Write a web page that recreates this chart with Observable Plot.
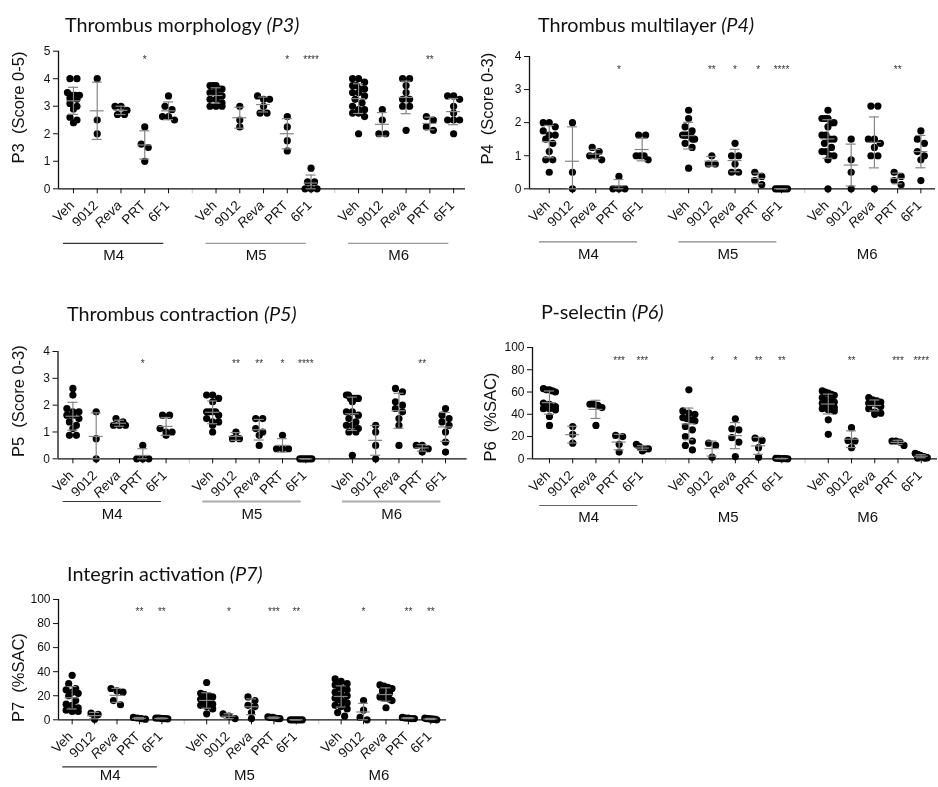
<!DOCTYPE html>
<html><head><meta charset="utf-8">
<script src="https://cdn.jsdelivr.net/npm/d3@7"></script>
<script src="https://cdn.jsdelivr.net/npm/@observablehq/plot@0.6"></script>
<style>
body{margin:0;background:#fff;}
#root{position:relative;width:938px;height:787px;overflow:hidden;background:#fff;}
.title{position:absolute;font-family:Lato,"Open Sans",sans-serif;font-size:19.8px;line-height:1;color:#111;white-space:nowrap;will-change:transform;}
.panel{position:absolute;will-change:transform;}
</style></head><body><div id="root"></div>
<script>
// ---------------- DATA ----------------
const treatments = ["Veh", "9012", "Reva", "PRT", "6F1"];
const groups = ["M4", "M5", "M6"];

// P3 Thrombus morphology (score 0-5); per group: [Veh, 9012, Reva, PRT, 6F1]
const p3_M4 = [
  [4.0,4.0,3.5,3.4,3.4,3.4,3.3,3.25,3.1,3.0,2.9,2.6,2.5,2.4],
  [4.0,2.5,2.0],
  [3.0,3.0,2.85,2.7,2.7],
  [2.25,1.625,1.5,1.0],
  [3.375,3.0,2.875,2.625,2.625,2.5]
];
const p3_M5 = [
  [3.75,3.75,3.75,3.625,3.625,3.5,3.5,3.375,3.375,3.25,3.25,3.125,3.0,3.0,3.0],
  [3.0,2.5,2.25],
  [3.375,3.25,3.25,3.0,2.75,2.75],
  [2.625,2.25,1.75,1.375],
  [0.75,0.25,0.25,0,0,0]
];
const p3_M6 = [
  [4.0,4.0,3.875,3.75,3.75,3.625,3.625,3.5,3.5,3.375,3.25,3.125,3.0,2.875,2.875,2.75,2.75,2.625,2.0],
  [2.875,2.5,2.0,2.0],
  [4.0,4.0,3.75,3.5,3.25,3.25,3.0,3.0,2.125],
  [2.625,2.5,2.25,2.125],
  [3.375,3.375,3.25,3.0,2.75,2.5,2.5,2.5,2.0]
];
const p3_sig = [["","","","*",""],["","","","*","****"],["","","","**",""]];

// P4 Thrombus multilayer (score 0-3)
const p4_M4 = [
  [2.0,2.0,1.875,1.75,1.625,1.625,1.5,1.375,1.125,0.875,0.875,0.5],
  [2.0,0.5,0],
  [1.25,1.125,1.0,1.0,0.875],
  [0.375,0,0,0],
  [1.625,1.625,1.0,1.0,1.0,0.875]
];
const p4_M5 = [
  [2.375,2.125,1.875,1.75,1.625,1.625,1.625,1.625,1.625,1.5,1.5,1.375,1.25,0.625],
  [1.0,0.75,0.75],
  [1.375,1.0,1.0,0.75,0.5,0.5],
  [0.5,0.375,0.25,0.125],
  [0,0,0,0,0,0]
];
const p4_M6 = [
  [2.375,2.125,2.125,2.125,2.0,2.0,1.875,1.625,1.625,1.5,1.5,1.375,1.25,1.125,1.125,1.0,1.0,0.875,0],
  [1.5,0.875,0.5,0],
  [2.5,2.5,1.5,1.5,1.375,1.25,1.0,1.0,0],
  [0.5,0.375,0.25,0.125],
  [1.75,1.5,1.375,1.125,1.0,0.875,0.25]
];
const p4_sig = [["","","","*",""],["","**","*","*","****"],["","","","**",""]];

// P5 Thrombus contraction (score 0-3)
const p5_M4 = [
  [2.625,2.375,1.875,1.75,1.75,1.625,1.625,1.5,1.375,1.25,1.125,0.875,0.875],
  [1.75,0.75,0],
  [1.5,1.375,1.25,1.25,1.25],
  [0.5,0,0,0],
  [1.625,1.625,1.125,1.0,1.0,0.875]
];
const p5_M5 = [
  [2.375,2.375,2.25,2.125,1.75,1.75,1.75,1.75,1.625,1.5,1.375,1.375,1.25,1.0],
  [1.0,0.75,0.75],
  [1.5,1.5,1.125,1.0,0.875,0.5],
  [0.875,0.375,0.375,0.375],
  [0,0,0,0,0,0]
];
const p5_M6 = [
  [2.375,2.375,2.25,2.25,2.25,2.25,2.25,2.125,1.75,1.75,1.625,1.5,1.375,1.25,1.25,1.125,1.0,1.0,0.125],
  [1.25,1.0,0.5,0],
  [2.625,2.5,2.125,2.0,1.875,1.75,1.5,1.25,0.5],
  [0.5,0.5,0.375,0.25],
  [1.875,1.625,1.5,1.375,1.25,1.0,0.625,0.25]
];
const p5_sig = [["","","","*",""],["","**","**","*","****"],["","","","**",""]];

// P6 P-selectin (%SAC)
const p6_M4 = [
  [63,62,62,61,60,50,49,47,45,45,44,38,30],
  [29,22,14],
  [49,49,48,46,30],
  [21,20,13,6],
  [13,11,9,9,9,7]
];
const p6_M5 = [
  [62,43,41,40,37,36,35,34,29,26,20,16,12,8],
  [14,12,1.5],
  [36,27,26,19,15,2],
  [18.5,16.5,10,1.5],
  [0.5,0.3,0.2,0.2,0.1,0]
];
const p6_M6 = [
  [61,60,59,58,57,55,53,52,51,50,50,49,48,48,47,46,45,44,43,35,22],
  [28,16.5,16,10],
  [55,53,52,51,50,50,49,47,45,42,41,40],
  [16,16,15,12],
  [5,4,4,3.5,3,3,2.5,2,2,1.5,1.5,1,1,0.5,0.5]
];
const p6_sig = [["","","","***","***"],["","*","*","**","**"],["","**","","***","****"]];

// P7 Integrin activation (%SAC)
const p7_M4 = [
  [37,30,26,25,23,22,20,16,13,12,10,8,7,7],
  [5.5,4.5,0.5],
  [26,24,23,16,12.5],
  [2,1.5,1,0.5],
  [1.5,1.5,1.2,1,1,0.8]
];
const p7_M5 = [
  [31,22,21,20,19,17,16,15,14,13,12,11,9,5],
  [5,3,1],
  [19,16,12,11,6,1],
  [2.5,2,2,1.5,1,1],
  [0,0,0,0,0,0]
];
const p7_M6 = [
  [34,32,30,29,27,26,25,23,21,20,18,17,16,15,14,12,11,9,6,3],
  [16,8,2,0],
  [29,28,27,26,24,22,19,19,18,18,17,16,10],
  [2,1.5,1.5,1,1],
  [1.5,1,1,0.8,0.5,0.5,0.3,0]
];
const p7_sig = [["","","","**","**"],["","*","","***","**"],["","*","","**","**"]];

const scoreTicks5 = [0,1,2,3,4,5];
const scoreTicks4 = [0,1,2,3,4];
const pctTicks = [0,20,40,60,80,100];

// ---------------- LAYOUT ----------------
const panels = [
  {title:"Thrombus morphology ", code:"(P3)", yLabel:"P3\u00a0\u00a0(Score 0-5)", data:[p3_M4,p3_M5,p3_M6], sig:p3_sig,
   yDomain:[0,5], yTicks:scoreTicks5, left:0, top:38, width:470, height:232, mL:58, mR:5, mT:12.7, mB:81.7,
   xDomain:[-0.63,16.5], titleX:65, titleBase:33, labDx:-40, labDy:-12.5, starDy:5, lineDy:54.5, groupDy:71,
   lines:[{stroke:"#333",w:1.2},{stroke:"#999",w:1.2},{stroke:"#999",w:1.2}]},
  {title:"Thrombus multilayer ", code:"(P4)", yLabel:"P4\u00a0\u00a0(Score 0-3)", data:[p4_M4,p4_M5,p4_M6], sig:p4_sig,
   yDomain:[0,4], yTicks:scoreTicks4, left:470, top:38, width:468, height:232, mL:59, mR:3, mT:18, mB:81.7,
   xDomain:[-0.85,16.63], titleX:538, titleBase:32.7, labDx:-42, labDy:-14, starDy:9.5, lineDy:53, groupDy:70,
   lines:[{stroke:"#888",w:1.2},{stroke:"#888",w:1.2},null]},
  {title:"Thrombus contraction ", code:"(P5)", yLabel:"P5\u00a0\u00a0(Score 0-3)", data:[p5_M4,p5_M5,p5_M6], sig:p5_sig,
   yDomain:[0,4], yTicks:scoreTicks4, left:0, top:330, width:470, height:195, mL:57.5, mR:3.3, mT:21, mB:66.7,
   xDomain:[-0.64,16.93], titleX:67, titleBase:322, labDx:-39.5, labDy:-4, starDy:8, lineDy:42.7, groupDy:60,
   lines:[{stroke:"#333",w:1},{stroke:"#aaa",w:2},{stroke:"#aaa",w:2}]},
  {title:"P-selectin ", code:"(P6)", yLabel:"P6\u00a0\u00a0(%SAC)", data:[p6_M4,p6_M5,p6_M6], sig:p6_sig,
   yDomain:[0,100], yTicks:pctTicks, left:470, top:330, width:468, height:195, mL:62, mR:1, mT:17, mB:66.7,
   xDomain:[-0.73,16.7], titleX:541, titleBase:320, labDx:-42, labDy:14, starDy:9.5, lineDy:46.7, groupDy:63,
   lines:[{stroke:"#666",w:1.2},null,null]},
  {title:"Integrin activation ", code:"(P7)", yLabel:"P7\u00a0\u00a0(%SAC)", data:[p7_M4,p7_M5,p7_M6], sig:p7_sig,
   yDomain:[0,100], yTicks:pctTicks, left:0, top:585, width:470, height:202, mL:58, mR:24, mT:14, mB:67.7,
   xDomain:[-0.61,16.7], titleX:67, titleBase:582, labDx:-40, labDy:18, starDy:8.5, lineDy:47, groupDy:60.5,
   lines:[{stroke:"#333",w:1.2},null,null]}
];

const root = document.getElementById("root");
const FONT = "'Liberation Sans', Arial, sans-serif";

function makePanel(cfg) {
  const [x0, x1] = cfg.xDomain, [y0, y1] = cfg.yDomain;
  const pxX = (cfg.width - cfg.mL - cfg.mR) / (x1 - x0);
  const pxY = (cfg.height - cfg.mT - cfg.mB) / (y1 - y0);
  const pts = [], stats = [], stars = [], labels = [], realSlots = [], gapSlots = [], gl = [];
  groups.forEach((g, gi) => {
    treatments.forEach((t, ti) => {
      const slot = gi * 6 + ti;
      realSlots.push(slot);
      labels.push({slot, label: t});
      const vals = cfg.data[gi][ti];
      // symmetric rows of near-equal values (dot-plot layout)
      const sorted = [...vals].sort((a, b) => b - a);
      const rows = [];
      for (const v of sorted) {
        const r = rows[rows.length - 1];
        if (r && (r.top - v) * pxY <= 5) r.vals.push(v); else rows.push({top: v, vals: [v]});
      }
      for (const r of rows) {
        const n = r.vals.length;
        const s = n > 1 ? Math.min(7, 12 / (n - 1)) : 0;
        r.vals.forEach((v, k) => pts.push({x: slot + (k - (n - 1) / 2) * s / pxX, y: v}));
      }
      const m = d3.mean(vals), sd = d3.deviation(vals) || 0;
      stats.push({slot, mean: m, lo: Math.max(y0, m - sd), hi: Math.min(y1, m + sd)});
      if (cfg.sig[gi][ti]) stars.push({slot, text: cfg.sig[gi][ti]});
    });
    if (gi < 2) gapSlots.push(gi * 6 + 5);
    if (cfg.lines[gi]) gl.push({x1: gi * 6 - 0.42, x2: gi * 6 + 3.8, ...cfg.lines[gi]});
  });
  const groupLab = groups.map((g, gi) => ({name: g, cx: gi * 6 + 1.69}));
  const cw = 5 / pxX, mw = 7 / pxX;
  const bar = {stroke: "#858585", strokeWidth: 1.2};

  const svg = Plot.plot({
    width: cfg.width, height: cfg.height,
    marginLeft: cfg.mL, marginRight: cfg.mR, marginTop: cfg.mT, marginBottom: cfg.mB,
    x: {domain: cfg.xDomain},
    y: {domain: cfg.yDomain},
    style: {fontFamily: FONT, fontSize: "12px", color: "#111", background: "transparent", overflow: "visible"},
    marks: [
      Plot.axisY(cfg.yTicks, {tickSize: 5, tickPadding: 3, fontSize: 12, label: null, stroke: "#111"}),
      Plot.axisX(realSlots, {tickSize: 5, tickFormat: () => "", label: null, stroke: "#111"}),
      Plot.axisX(gapSlots, {tickSize: 5, tickFormat: () => "", label: null, stroke: "#c8c8c8"}),
      Plot.ruleY([y0], {stroke: "#111", strokeWidth: 1.3}),
      Plot.ruleX([x0], {stroke: "#111", strokeWidth: 1.3}),
      Plot.dot(pts, {x: "x", y: "y", r: 3.6, fill: "#000", stroke: "none"}),
      Plot.ruleX(stats, {x: "slot", y1: "lo", y2: "hi", ...bar}),
      Plot.ruleY(stats, {y: "hi", x1: d => d.slot - cw, x2: d => d.slot + cw, ...bar}),
      Plot.ruleY(stats, {y: "lo", x1: d => d.slot - cw, x2: d => d.slot + cw, ...bar}),
      Plot.ruleY(stats, {y: "mean", x1: d => d.slot - mw, x2: d => d.slot + mw, ...bar}),
      Plot.text(stars, {x: "slot", frameAnchor: "top", dy: cfg.starDy, text: "text", fontSize: 10, fill: "#333", fillOpacity: 0.99}),
      Plot.text(labels.filter(d => d.label !== "Reva"), {x: "slot", frameAnchor: "bottom", text: "label", rotate: -45, textAnchor: "end", dx: 1.5, dy: 17.5, fontSize: 13.5, fill: "#111"}),
      Plot.text(labels.filter(d => d.label === "Reva"), {x: "slot", frameAnchor: "bottom", text: "label", rotate: -45, textAnchor: "end", dx: 1.5, dy: 17.5, fontSize: 13.5, fontStyle: "italic", fill: "#111"}),
      Plot.ruleY(gl, {x1: "x1", x2: "x2", y: () => y0, dy: cfg.lineDy, stroke: d => d.stroke, strokeWidth: d => d.w}),
      Plot.text(groupLab, {x: "cx", frameAnchor: "bottom", dy: cfg.groupDy, text: "name", fontSize: 15, fill: "#111"}),
      Plot.text([cfg.yLabel], {frameAnchor: "left", text: d => d, rotate: -90, textAnchor: "middle", dx: cfg.labDx, dy: cfg.labDy, fontSize: 16.5, fill: "#111"})
    ]
  });
  const wrap = document.createElement("div");
  wrap.className = "panel";
  wrap.style.left = cfg.left + "px";
  wrap.style.top = cfg.top + "px";
  wrap.appendChild(svg);
  root.appendChild(wrap);

  const t = document.createElement("div");
  t.className = "title";
  t.style.left = cfg.titleX + "px";
  t.style.top = (cfg.titleBase - 17.6) + "px";
  t.appendChild(document.createTextNode(cfg.title));
  const i = document.createElement("i");
  i.textContent = cfg.code;
  t.appendChild(i);
  root.appendChild(t);
}
panels.forEach(makePanel);
</script>
</body></html>
